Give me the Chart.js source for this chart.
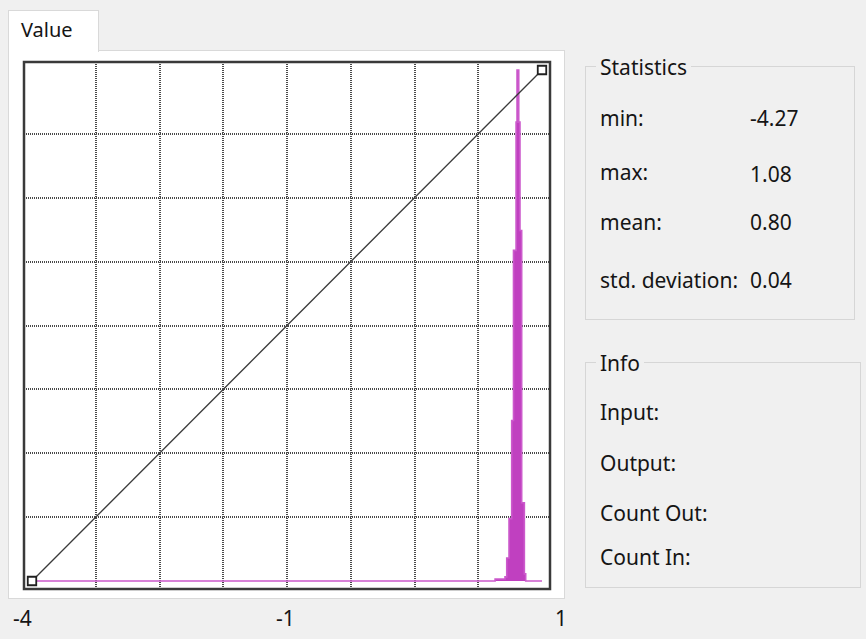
<!DOCTYPE html>
<html>
<head>
<meta charset="utf-8">
<script src="https://cdn.jsdelivr.net/npm/chart.js@4/dist/chart.umd.min.js"></script>
<style>
  html, body { margin: 0; padding: 0; }
  body {
    width: 866px; height: 639px; position: relative; overflow: hidden;
    background: #f0f0f0; color: #151515;
    font-family: "Noto Sans", sans-serif; font-size: 21px;
  }
  .t { position: absolute; white-space: nowrap; height: 28px; line-height: 28px; }
  #pane { position: absolute; left: 8px; top: 50px; width: 555px; height: 547px;
          background: #fff; border: 1px solid #d9d9d9; }
  #tab { position: absolute; left: 8px; top: 10px; width: 89px; height: 41px;
         background: #fff; border: 1px solid #d9d9d9; border-bottom: none; z-index: 2; }
  .grp { position: absolute; border: 1px solid #d6d6d6; }
  .gt { background: #f0f0f0; padding: 0 4px; }
  #plot { position: absolute; left: 20px; top: 58px; z-index: 3; }
</style>
</head>
<body>
<div id="pane"></div>
<div id="tab"></div>
<div class="t" style="left:21px;top:16px;z-index:3;font-size:20px">Value</div>
<canvas id="plot" width="534" height="535"></canvas>
<div id="labels"></div>

<script>
// Value range of the channel and its histogram (left bin edges and counts)
const valueRange = [-4.27, 1.08];
const histEdges  = [0.588, 0.692, 0.710, 0.734, 0.762, 0.781, 0.808, 0.818, 0.836, 0.849, 0.867, 0.895, 0.909];
const histCounts = [8,     16,    90,    244,   628,   1294,  1796,  2000,  1796,  1372,  306,   28,    0];

// Transfer curve (input -> normalized output)
const curveIn  = [-4.27, 1.08];
const curveOut = [0, 1];

// Range labels under the plot
const rangeLabels = ['-4', '-1', '1'];

// Statistics / info panel texts
const statLabels = ['min:', 'max:', 'mean:', 'std. deviation:'];
const statValues = ['-4.27', '1.08', '0.80', '0.04'];
const infoLabels = ['Input:', 'Output:', 'Count Out:', 'Count In:'];

const gridDivisions = 8;

// ---- side panels and range labels ----
const host = document.getElementById('labels');
function addText(txt, left, cy, extra) {
  const d = document.createElement('div');
  d.className = 't';
  d.textContent = txt;
  d.style.left = left + 'px';
  d.style.top = (cy - 14) + 'px';
  if (extra) Object.assign(d.style, extra);
  host.appendChild(d);
  return d;
}
function addGroup(title, left, top, w, h) {
  const g = document.createElement('div');
  g.className = 'grp';
  Object.assign(g.style, { left: left + 'px', top: top + 'px', width: w + 'px', height: h + 'px' });
  host.appendChild(g);
  const t = addText(title, left + 11, top + 1);
  t.classList.add('gt');
}
addGroup('Statistics', 585, 66, 268, 252);
addGroup('Info', 585, 362, 274, 224);

const statY = [118, 172, 222, 280];
statLabels.forEach((s, i) => {
  addText(s, 600, statY[i]);
  addText(statValues[i], 750, statY[i] + (i === 1 ? 2 : 0));
});
const infoY = [412, 463, 513, 557];
infoLabels.forEach((s, i) => addText(s, 600, infoY[i]));

const rangeX = [13, 276, 555];
rangeLabels.forEach((s, i) => addText(s, rangeX[i], 618));

// ---- plot ----
const padPx = 8, dataPx = 510;
const pad = padPx / dataPx;
const span = valueRange[1] - valueRange[0];
const histMax = Math.max(...histCounts);

const histPoints = [{ x: valueRange[0], y: 0 }]
  .concat(histEdges.map((e, i) => ({ x: e, y: histCounts[i] })))
  .concat([{ x: valueRange[1], y: 0 }]);
const curvePoints = curveIn.map((v, i) => ({ x: v, y: curveOut[i] }));

const gridTicks = [];
for (let k = 1; k < gridDivisions; k++) gridTicks.push(k);

const frame = {
  id: 'frame',
  afterDraw(chart) {
    const { ctx, chartArea: a } = chart;
    ctx.save();
    ctx.strokeStyle = '#3a3a3a';
    ctx.lineWidth = 2.5;
    ctx.strokeRect(a.left, a.top, a.width, a.height);
    ctx.restore();
  }
};

const gridAxis = (position) => ({
  type: 'linear',
  position,
  min: -pad * gridDivisions,
  max: gridDivisions * (1 + pad),
  afterBuildTicks: s => { s.ticks = gridTicks.map(v => ({ value: v })); },
  ticks: { display: false },
  grid: { color: '#4a4a4a', lineWidth: 2, drawTicks: false },
  border: { display: false, dash: [1, 1] }
});

new Chart(document.getElementById('plot'), {
  type: 'line',
  data: {
    datasets: [
      {
        label: 'curve',
        data: curvePoints,
        yAxisID: 'tf',
        borderColor: '#3a3a3a',
        borderWidth: 1.3,
        tension: 0,
        pointStyle: 'rect',
        pointRadius: 6,
        pointBorderWidth: 1.8,
        pointBorderColor: '#202020',
        pointBackgroundColor: '#ffffff',
        clip: false
      },
      {
        label: 'histogram',
        data: histPoints,
        yAxisID: 'y',
        stepped: true,
        fill: 'origin',
        backgroundColor: '#c040c0',
        borderColor: '#cc5acc',
        borderWidth: 1.6,
        pointRadius: 0
      }
    ]
  },
  options: {
    responsive: false,
    devicePixelRatio: 1,
    animation: false,
    layout: { padding: 4, autoPadding: false },
    plugins: { legend: { display: false }, tooltip: { enabled: false } },
    scales: {
      x: { type: 'linear', display: false, min: valueRange[0] - pad * span, max: valueRange[1] + pad * span },
      y: { type: 'linear', display: false, min: -pad * histMax, max: histMax * (1 + pad) },
      tf: { type: 'linear', display: false, min: -pad, max: 1 + pad },
      gx: gridAxis('bottom'),
      gy: gridAxis('left')
    }
  },
  plugins: [frame]
});
</script>
</body>
</html>
